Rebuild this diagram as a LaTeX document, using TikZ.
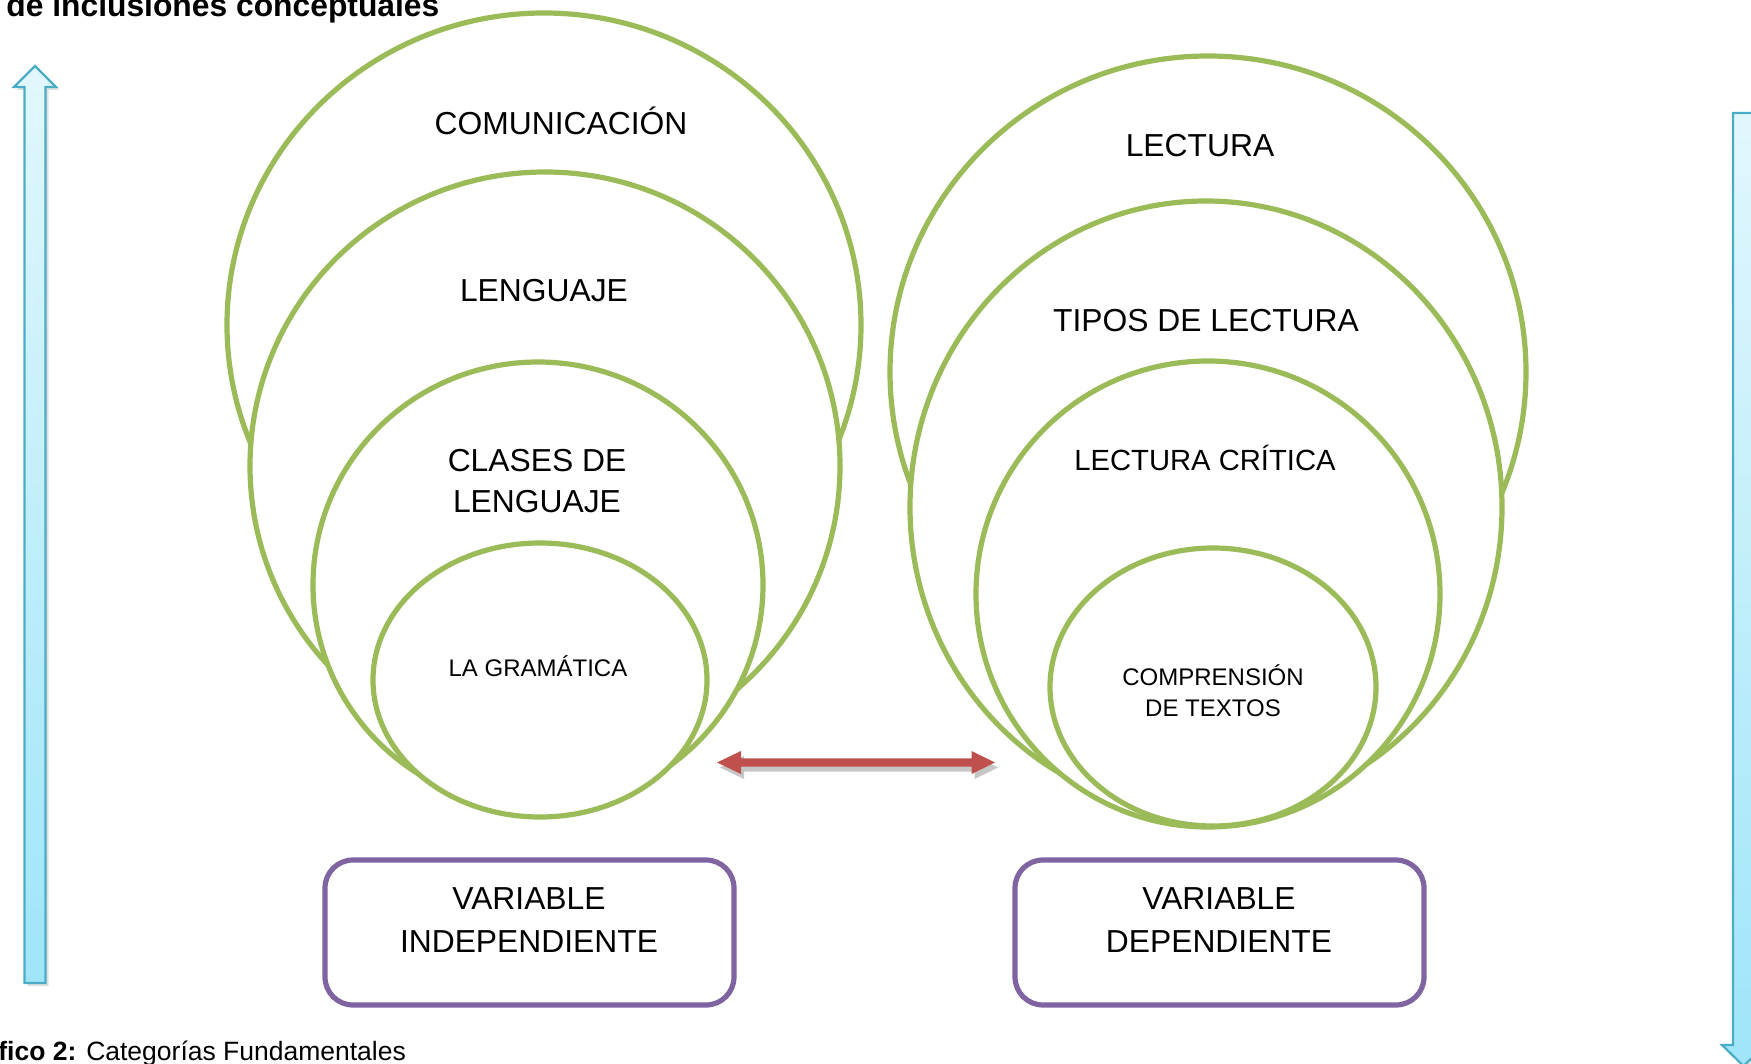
\documentclass[tikz,border=0pt]{standalone}
\usepackage{fontspec}
\setmainfont{Liberation Sans}
\usepackage{tikz}
\usetikzlibrary{shapes.geometric, shadows}

\definecolor{ringgreen}{HTML}{9BBB59}
\definecolor{boxpurple}{HTML}{8064A2}
\definecolor{linkred}{HTML}{C0504D}
\definecolor{upline}{HTML}{4BACC6}
\definecolor{uptop}{HTML}{E2F7FD}
\definecolor{upbot}{HTML}{9FE5F9}

\begin{document}
\begin{tikzpicture}[x=0.5pt, y=-0.5pt,
    ring/.style={ellipse, draw=ringgreen, line width=2.6pt, fill=white, inner sep=0pt},
    varbox/.style={rectangle, rounded corners=14pt, draw=boxpurple, line width=2.6pt, fill=white, minimum width=204.5pt, minimum height=72.5pt},
    big/.style={font=\fontsize{15.9}{21.7}\selectfont, align=center, anchor=base, inner sep=0pt},
    small/.style={font=\fontsize{12}{15.5}\selectfont, align=center, anchor=base, inner sep=0pt},
    flow/.style={draw=upline, line width=1.1pt, top color=uptop, bottom color=upbot, drop shadow={opacity=0.25, shadow xshift=1.5pt, shadow yshift=-1.5pt}}]
    \useasboundingbox (0,0) rectangle (1751,1064);
    % \tikzstyle{every node}=[inner sep=0pt]
    \node[anchor=base west, inner sep=0pt, font=\fontsize{15.9}{19}\selectfont\bfseries] (title) at (6,16.7) {de inclusiones conceptuales};
    \node[anchor=base west, inner sep=0pt, font=\fontsize{13.25}{16}\selectfont] (caption) at (-2,1060.7) {\textbf{fico 2:} Categorías Fundamentales};

    % left side
    \node[ring, minimum width=317pt, minimum height=312pt] (com) at (544,325) {};
    \node[ring, minimum width=295pt, minimum height=294pt] (len) at (545,466) {};
    \node[ring, minimum width=225pt, minimum height=223pt] (cla) at (538,585) {};
    \node[ring, minimum width=167pt, minimum height=137pt] (gra) at (540,680) {};
    \node[big] at (561,134.4) {COMUNICACIÓN};
    \node[big] at (544,301.4) {LENGUAJE};
    \node[big, font=\fontsize{15.9}{20.5}\selectfont] at (537,512.4) {CLASES DE\\LENGUAJE};
    \node[small] at (538,676.6) {LA GRAMÁTICA};

    % right side
    \node[ring, minimum width=318pt, minimum height=316pt] (lec) at (1208,372) {};
    \node[ring, minimum width=296pt, minimum height=306pt] (tip) at (1206,507) {};
    \node[ring, minimum width=232pt, minimum height=233pt] (cri) at (1208,594) {};
    \node[ring, minimum width=163pt, minimum height=139pt] (txt) at (1213,687) {};
    \node[big] at (1200,156.4) {LECTURA};
    \node[big] at (1206,331.4) {TIPOS DE LECTURA};
    \node[big, font=\fontsize{14.6}{20}\selectfont] at (1205,470.5) {LECTURA CRÍTICA};
    \node[small] at (1213,716.6) {COMPRENSIÓN\\DE TEXTOS};

    % variables
    \node[varbox] (vi) at (529.5,932.5) {};
    \node[varbox] (vd) at (1219.5,932.5) {};
    \node[big] at (529,952.4) {VARIABLE\\INDEPENDIENTE};
    \node[big] at (1219,952.4) {VARIABLE\\DEPENDIENTE};

    % link between both sides
    \coordinate (gl) at (717,762.5);
    \coordinate (gr) at (995,762.5);
    \fill[linkred, drop shadow={opacity=0.45, shadow xshift=1.5pt, shadow yshift=-2.5pt}]
        (gl) -- ++(24,-11.5) -- ++(0,7.3) -- ++(230.5,0) -- ++(0,-7.3) -- (gr)
        -- ++(-23.5,11.5) -- ++(0,-7.3) -- ++(-230.5,0) -- ++(0,7.3) -- cycle;

    % side arrows
    \path[flow] (35,66) -- (56,87) -- (45.5,87) -- (45.5,983) -- (24.5,983) -- (24.5,87) -- (14,87) -- cycle;
    \path[flow] (1733,113) -- (1754,113) -- (1754,1045) -- (1765,1045) -- (1743.5,1066) -- (1722,1045) -- (1733,1045) -- cycle;
\end{tikzpicture}
\end{document}
